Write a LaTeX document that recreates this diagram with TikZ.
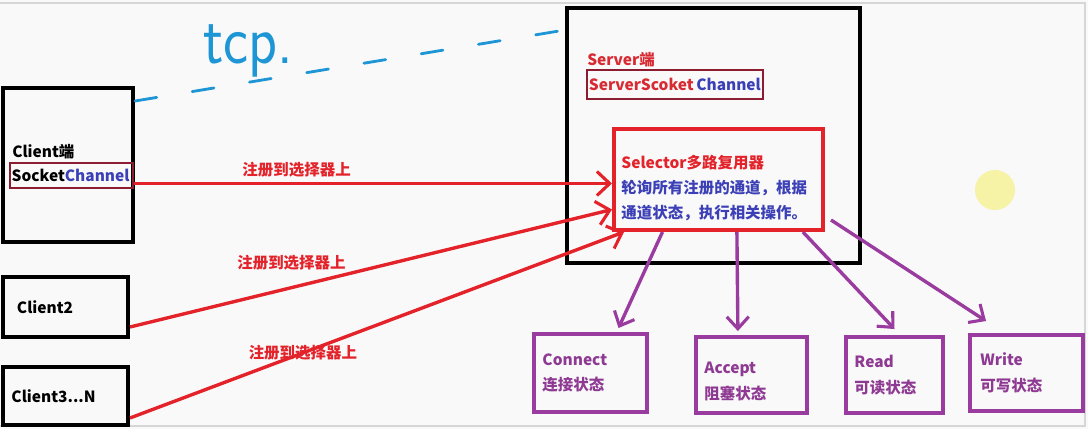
\documentclass[tikz,border=0pt]{standalone}
\usepackage{fontspec}
\setmainfont{Noto Sans CJK SC}
\usepackage{xcolor}
\usetikzlibrary{arrows.meta,positioning,calc}
\definecolor{Paper}{HTML}{F9F9F9}
\definecolor{Frame}{HTML}{D6D6D6}
\definecolor{Glow}{HTML}{F6F2A6}
\definecolor{RegRed}{HTML}{E3222A}
\definecolor{SrvRed}{HTML}{D82A32}
\definecolor{DarkRed}{HTML}{8C1C30}
\definecolor{ChanBlue}{HTML}{3C40B6}
\definecolor{Purple}{HTML}{9A3C9F}
\definecolor{PurpleText}{HTML}{8E3A93}
\definecolor{TcpBlue}{HTML}{1E96D6}

\begin{document}
\begin{tikzpicture}[x=0.025cm,y=-0.025cm,
  hostbox/.style={draw=black,line width=2.8pt,inner sep=0pt},
  clientbox/.style={draw=black,line width=2.8pt,align=left,inner xsep=0.1cm,
    font=\bfseries\fontsize{11}{13}\selectfont},
  chanbox/.style={draw=DarkRed,line width=1.6pt,align=left,inner xsep=1pt,inner ysep=0pt,
    font=\bfseries\fontsize{11}{13}\selectfont},
  nametext/.style={inner sep=0pt,font=\bfseries\fontsize{11}{13}\selectfont},
  selbox/.style={draw=RegRed,line width=2.8pt,align=left,inner xsep=0.18cm,text=ChanBlue,
    font=\bfseries\fontsize{11}{17.8}\selectfont},
  statebox/.style={draw=Purple,line width=2.8pt,align=left,inner xsep=0.21cm,text=PurpleText,
    font=\bfseries\fontsize{11}{18.4}\selectfont},
  regtext/.style={text=RegRed,inner sep=1pt,font=\bfseries\fontsize{11}{13}\selectfont},
  regarrow/.style={-{Straight Barb[length=0.32cm,width=0.6cm,line width=2.2pt]},line width=2.4pt,RegRed},
  oparrow/.style={-{Straight Barb[length=0.3cm,width=0.55cm,line width=2.2pt]},line width=2.4pt,Purple},
  tcpline/.style={TcpBlue,line width=2pt,line cap=round,dash pattern=on 0.55cm off 0.9cm}]
  \fill[Paper] (0,0) rectangle (1088,429);
  \useasboundingbox (0,0) rectangle (1088,429);
  \draw[Frame,line width=1pt] (0,3) -- (1085,3) -- (1085,426) -- (0,426);
  \fill[Glow] (995,190) circle (0.5cm);

  % clients
  \node[hostbox,minimum width=3.25cm,minimum height=3.85cm] (c1) at (68,165) {};
  \node[nametext,anchor=base west] (c1name) at (12,157) {Client端};
  \node[chanbox,minimum width=3.075cm,minimum height=0.625cm,text width=2.99cm] (sock) at (71.5,175.5)
    {Socket\textcolor{ChanBlue}{Channel}};
  \node[clientbox,minimum width=3.125cm,minimum height=1.5cm,text width=2.425cm] (c2) at (65.5,307) {Client2};
  \node[clientbox,minimum width=3.125cm,minimum height=1.45cm,text width=2.7cm] (c3) at (65.5,396) {Client3...N};

  % server
  \node[hostbox,minimum width=7.325cm,minimum height=6.375cm] (srv) at (713.5,135.5) {};
  \node[nametext,text=SrvRed,anchor=base west] (srvname) at (587,65) {Server端};
  \node[chanbox,minimum width=4.4cm,minimum height=0.725cm,text width=4.3cm] (ssc) at (675,84.5)
    {\textcolor{SrvRed}{ServerScoket}\,\textcolor{ChanBlue}{Channel}};
  \node[selbox,minimum width=5.225cm,minimum height=2.525cm,text width=4.85cm] (sel) at (718.5,179.5)
    {\rule{0pt}{22pt}\textcolor{RegRed}{Selector多路复用器}\\轮询所有注册的通道，根据\\通道状态，执行相关操作。};

  % states
  \node[statebox,minimum width=2.825cm,minimum height=1.95cm,text width=2.4cm] (con) at (590.5,373) {Connect\\连接状态};
  \node[statebox,minimum width=2.775cm,minimum height=1.9cm,text width=2.35cm] (acc) at (751.5,375) {\rule{0pt}{17pt}Accept\\阻塞状态};
  \node[statebox,minimum width=2.425cm,minimum height=1.9cm,text width=2.0cm] (rd) at (894.5,375) {Read\\可读状态};
  \node[statebox,minimum width=2.825cm,minimum height=1.9cm,text width=2.3cm] (wr) at (1026.5,373) {Write\\可写状态};

  % tcp link
  \draw[tcpline] ([yshift=-0.375cm]c1.north east) -- ([yshift=-0.6cm]srv.north west);
  \node[text=TcpBlue,anchor=base west,inner sep=0pt,font=\sffamily\fontsize{50}{50}\selectfont] (tcp) at (203,63)
    {\scalebox{0.85}[1]{tcp.}};

  % register
  \draw[regarrow] ([yshift=-0.2cm]sock.east) -- ([yshift=-0.2cm]sock.east -| sel.west)
    node[regtext,pos=0.34,above=2pt] {注册到选择器上};
  \draw[regarrow] ([yshift=-0.5cm]c2.east) -- ([yshift=-0.75cm]sel.west)
    node[regtext,pos=0.335,above=10pt] {注册到选择器上};
  \draw[regarrow] ([yshift=-0.55cm]c3.east) -- ([xshift=0.3cm]sel.south west)
    node[regtext,pos=0.35] {注册到选择器上};

  % dispatch
  \draw[oparrow] ([xshift=-1.4cm]sel.south) -- ([xshift=0.7cm,yshift=0.1cm]con.north);
  \draw[oparrow] ([xshift=0.46cm]sel.south) -- ([xshift=-0.34cm,yshift=0.1cm]acc.north);
  \draw[oparrow] ([xshift=2.11cm]sel.south) -- ([yshift=0.15cm]rd.north);
  \draw[oparrow] ([xshift=0.15cm,yshift=0.3cm]sel.south east) -- ([xshift=0.45cm,yshift=0.3cm]wr.north west);
\end{tikzpicture}
\end{document}
